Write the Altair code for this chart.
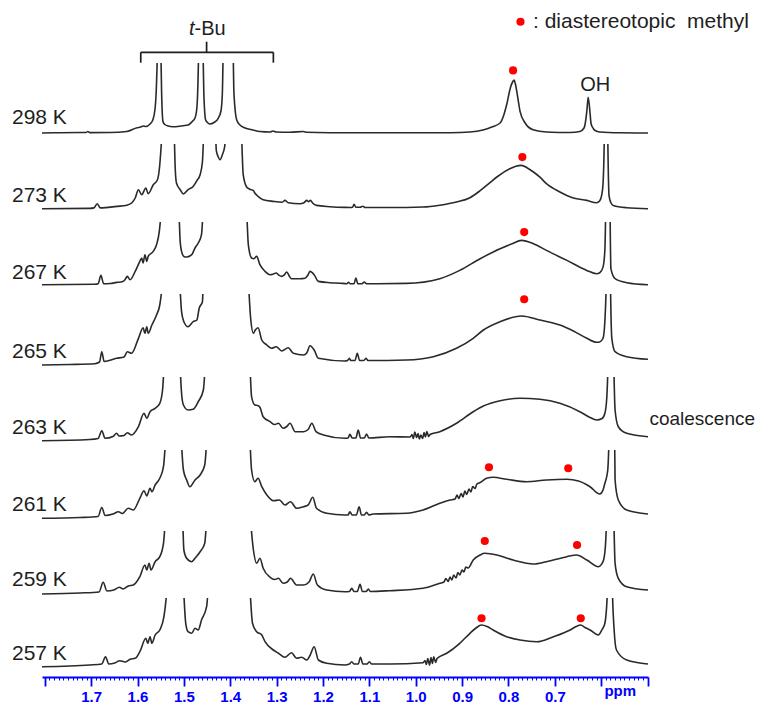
import altair as alt
import pandas as pd

FONT = "Liberation Sans, Arial, Helvetica, sans-serif"
INK = "#1e1e1e"
TRACE = "#2a2a2a"
BLUE = "#0000ff"
RED = "#ff0000"

# chemical-shift window shown on the axis (ppm, drawn high -> low)
PPM_MIN, PPM_MAX = 0.499, 1.806
PLOT_W = 606

temps = ["298 K", "273 K", "267 K", "265 K", "263 K", "261 K", "259 K", "257 K"]

# (ppm, intensity) pairs for each variable-temperature spectrum;
# off-scale t-Bu / OH maxima are truncated by the panel clip
trace_298 = [(1.806, 0), (1.767, 0.3), (1.711, 0.5), (1.707, 1.5), (1.703, 0.4), (1.659, 0.5),
             (1.623, 1.5), (1.601, 5.3), (1.593, 6), (1.588, 7), (1.582, 6.5), (1.573, 9),
             (1.567, 13), (1.562, 25), (1.559, 50), (1.557, 90), (1.554, 300), (1.550, 90),
             (1.548, 40), (1.545, 11.3), (1.541, 8.5), (1.534, 7), (1.524, 6.3), (1.513, 6.5),
             (1.502, 7.3), (1.491, 8), (1.483, 11), (1.476, 15), (1.472, 25), (1.468, 90),
             (1.464, 300), (1.459, 90), (1.457, 40), (1.453, 13), (1.448, 10), (1.444, 9),
             (1.435, 10.5), (1.426, 14.7), (1.420, 22), (1.417, 40), (1.415, 90), (1.405, 300),
             (1.394, 90), (1.392, 40), (1.386, 13), (1.379, 8), (1.368, 5), (1.351, 3),
             (1.336, 1.5), (1.314, 1), (1.308, 2), (1.301, 1), (1.271, 0.8), (1.243, 1.5),
             (1.237, 0.8), (1.185, 0.3), (1.034, 0.2), (0.926, 0.3), (0.883, 1), (0.855, 3),
             (0.836, 6), (0.818, 10), (0.810, 18), (0.804, 28), (0.795, 46.6), (0.791, 51),
             (0.788, 53), (0.785, 49), (0.782, 41.6), (0.778, 30), (0.775, 21.6), (0.764, 10),
             (0.747, 3.3), (0.718, 1), (0.667, 0.5), (0.646, 1.5), (0.637, 5), (0.635, 8),
             (0.631, 21.6), (0.628, 35.6), (0.624, 20), (0.622, 10), (0.619, 6), (0.613, 2.5),
             (0.603, 1), (0.560, 0.2), (0.499, 0)]

trace_273 = [(1.806, 0), (1.703, 0.3), (1.694, 0.8), (1.687, 5), (1.680, 0.8), (1.645, 2.3),
             (1.623, 3.5), (1.612, 6), (1.605, 10.7), (1.598, 19), (1.591, 14), (1.582, 20.7),
             (1.577, 15), (1.566, 24), (1.557, 29), (1.552, 44), (1.547, 80), (1.534, 300),
             (1.521, 80), (1.519, 44), (1.516, 25.7), (1.508, 19), (1.501, 14.7), (1.491, 19),
             (1.480, 22.3), (1.472, 28), (1.465, 34), (1.460, 47), (1.457, 80), (1.446, 300),
             (1.432, 80), (1.430, 58), (1.426, 52), (1.422, 49), (1.417, 54), (1.412, 62),
             (1.410, 80), (1.394, 300), (1.376, 80), (1.372, 34), (1.365, 22), (1.358, 19.5),
             (1.350, 18), (1.347, 15.7), (1.340, 12.3), (1.329, 9), (1.307, 7.3), (1.288, 6.5),
             (1.282, 8.3), (1.275, 6), (1.250, 5), (1.241, 6), (1.235, 8.3), (1.231, 7),
             (1.227, 8.3), (1.222, 5.5), (1.214, 3.3), (1.185, 2), (1.153, 1.3), (1.142, 1.2),
             (1.136, 1.5), (1.133, 4.3), (1.129, 1.5), (1.120, 1.5), (1.114, 2.5), (1.109, 1.2),
             (1.056, 1.2), (0.984, 1.7), (0.948, 3.5), (0.912, 6.7), (0.883, 11), (0.861, 18),
             (0.840, 26), (0.825, 31.7), (0.797, 40), (0.784, 42.5), (0.772, 43.3), (0.760, 41),
             (0.746, 36.7), (0.732, 31.5), (0.718, 25), (0.689, 16.7), (0.660, 10.7), (0.631, 8.3),
             (0.610, 6), (0.603, 8), (0.599, 13.3), (0.596, 25), (0.593, 80), (0.590, 300),
             (0.586, 80), (0.583, 13), (0.579, 6), (0.574, 3.3), (0.545, 1), (0.499, 0)]

trace_267 = [(1.806, 0), (1.692, 0.5), (1.685, 1), (1.679, 9.3), (1.673, 1), (1.659, 1.2),
             (1.645, 2.3), (1.633, 3), (1.627, 5), (1.622, 8.3), (1.616, 5), (1.605, 13.3),
             (1.595, 23.3), (1.591, 26.7), (1.588, 21.7), (1.584, 30), (1.580, 23.3), (1.577, 28.3),
             (1.566, 33.3), (1.559, 40), (1.553, 53.3), (1.548, 80), (1.530, 300), (1.511, 80),
             (1.508, 43.3), (1.505, 33.3), (1.500, 28.3), (1.494, 27.7), (1.483, 30), (1.476, 36.7),
             (1.469, 41.7), (1.462, 50), (1.458, 80), (1.411, 300), (1.365, 80), (1.361, 40),
             (1.354, 26.7), (1.349, 26), (1.343, 28.3), (1.336, 20), (1.325, 13.3), (1.314, 10),
             (1.308, 10.5), (1.301, 11.7), (1.295, 9.5), (1.289, 8.3), (1.284, 9.5), (1.278, 12.7),
             (1.273, 9), (1.268, 6), (1.250, 6), (1.239, 6.5), (1.232, 10), (1.228, 13.3),
             (1.219, 10), (1.210, 3.3), (1.185, 2), (1.163, 1.5), (1.148, 1), (1.145, 2.5),
             (1.142, 1), (1.133, 1), (1.129, 6.6), (1.125, 1), (1.116, 1), (1.111, 2.7),
             (1.106, 1), (1.020, 1.3), (0.948, 6), (0.905, 14.3), (0.861, 26), (0.818, 36),
             (0.792, 41), (0.772, 44.3), (0.746, 41), (0.718, 34.3), (0.674, 24.3), (0.631, 14.3),
             (0.610, 11), (0.603, 12), (0.596, 17.6), (0.592, 35), (0.590, 80), (0.585, 300),
             (0.581, 80), (0.579, 16), (0.570, 6), (0.545, 2), (0.499, 0)]

trace_265 = [(1.806, -4), (1.746, -3.5), (1.692, -2.7), (1.682, -1), (1.677, 9.3), (1.672, -0.5),
             (1.645, 2.7), (1.629, 4), (1.622, 9.3), (1.613, 7.7), (1.598, 22.7), (1.588, 33.3),
             (1.584, 27.7), (1.580, 34.3), (1.577, 27.7), (1.569, 36), (1.559, 46), (1.552, 56),
             (1.546, 80), (1.528, 300), (1.509, 80), (1.505, 49.3), (1.500, 39.3), (1.491, 34.3),
             (1.480, 39.3), (1.472, 41), (1.467, 52.7), (1.460, 59.3), (1.458, 80), (1.409, 300),
             (1.361, 80), (1.356, 42.7), (1.350, 27.7), (1.346, 31), (1.340, 33.3), (1.332, 21),
             (1.321, 16), (1.311, 12.7), (1.301, 14.3), (1.289, 10), (1.275, 13.3), (1.264, 7.7),
             (1.242, 6), (1.235, 8), (1.228, 15.3), (1.219, 11), (1.210, 2.7), (1.153, 0),
             (1.147, 0.5), (1.143, 2.7), (1.140, 0.5), (1.131, 0.5), (1.126, 7.7), (1.121, 0.5),
             (1.112, 0.5), (1.107, 2.7), (1.103, 0.5), (1.020, 1), (0.962, 4.3), (0.912, 12.7),
             (0.876, 22.7), (0.854, 31), (0.818, 39.3), (0.772, 45), (0.732, 41), (0.689, 36),
             (0.660, 30), (0.631, 22.7), (0.610, 18.7), (0.603, 19), (0.596, 22.7), (0.592, 40),
             (0.589, 80), (0.584, 300), (0.580, 80), (0.577, 22.7), (0.570, 9.3), (0.545, 4.3),
             (0.499, 1.7)]

trace_263 = [(1.806, -2.2), (1.703, -1), (1.685, 0), (1.677, 7.8), (1.670, 0.2), (1.653, 2),
             (1.645, 5.2), (1.640, 2.5), (1.629, 3), (1.622, 5.8), (1.613, 3.5), (1.598, 11.8),
             (1.586, 25.2), (1.580, 20.2), (1.573, 26.8), (1.562, 30.2), (1.552, 35.2), (1.546, 48.5),
             (1.542, 80), (1.526, 300), (1.509, 80), (1.505, 45.2), (1.501, 33.5), (1.491, 28.5),
             (1.480, 29.2), (1.469, 36.8), (1.458, 48.5), (1.453, 80), (1.405, 300), (1.358, 80),
             (1.354, 41.8), (1.347, 33.5), (1.341, 33), (1.336, 31.2), (1.329, 21.8), (1.314, 16.8),
             (1.304, 14), (1.296, 15.2), (1.286, 10.2), (1.278, 12), (1.271, 15.2), (1.260, 6.8),
             (1.242, 6.8), (1.232, 9), (1.224, 15.2), (1.215, 6.8), (1.199, 3.5), (1.153, 0.2),
             (1.146, 0.5), (1.142, 4.2), (1.137, 0.5), (1.129, 0.5), (1.124, 8.5), (1.119, 0.5),
             (1.111, 0.5), (1.106, 4.5), (1.101, 0.5), (1.056, 1.8), (1.012, 1.5), (1.008, 4),
             (1.005, 0), (1.002, 6.5), (0.998, 1), (0.995, 5), (0.992, -0.5), (0.989, 3.5),
             (0.985, 0), (0.982, 6), (0.979, 1.5), (0.976, 7), (0.972, 2), (0.969, 4),
             (0.948, 6.8), (0.912, 15.2), (0.876, 26.8), (0.854, 32.5), (0.818, 37.8), (0.775, 40.2),
             (0.732, 39.2), (0.689, 35.2), (0.646, 26.8), (0.624, 21), (0.610, 18.5), (0.598, 20),
             (0.592, 25.2), (0.588, 40), (0.585, 80), (0.579, 300), (0.573, 80), (0.570, 28.5),
             (0.563, 11.8), (0.545, 5.2), (0.499, 1.8)]

trace_261 = [(1.806, -2.3), (1.724, -1.5), (1.685, -0.5), (1.677, 8.7), (1.670, 0.5), (1.653, 2),
             (1.641, 4.3), (1.633, 2.5), (1.620, 7.7), (1.609, 6), (1.595, 17.7), (1.586, 25.3),
             (1.580, 20), (1.573, 27.7), (1.569, 24.3), (1.562, 31), (1.552, 37.7), (1.544, 49.3),
             (1.539, 80), (1.521, 300), (1.506, 80), (1.501, 46), (1.494, 36), (1.487, 29.3),
             (1.476, 36), (1.465, 41), (1.455, 51), (1.450, 80), (1.405, 300), (1.358, 80),
             (1.354, 46), (1.347, 34.3), (1.340, 37.7), (1.332, 29.3), (1.321, 21), (1.307, 15.3),
             (1.294, 16), (1.282, 11), (1.270, 14.3), (1.257, 7.7), (1.242, 9.3), (1.232, 11),
             (1.222, 18.7), (1.214, 7.7), (1.192, 2.7), (1.153, 1), (1.146, 1), (1.142, 4.3),
             (1.137, 1), (1.128, 1), (1.122, 9.3), (1.117, 1), (1.111, 1), (1.106, 3.7),
             (1.101, 1), (1.092, 2), (1.020, 2.7), (0.984, 6), (0.948, 12.7), (0.926, 16),
             (0.915, 17), (0.911, 21), (0.907, 17.5), (0.902, 22.5), (0.898, 19), (0.894, 25),
             (0.890, 21.5), (0.885, 27), (0.881, 24), (0.877, 29.5), (0.872, 27.5), (0.868, 32),
             (0.861, 33.5), (0.847, 37.7), (0.833, 38.7), (0.804, 36.7), (0.761, 34.3), (0.718, 36),
             (0.674, 36.7), (0.649, 35), (0.624, 29.3), (0.603, 22), (0.596, 26), (0.592, 32.7),
             (0.586, 45), (0.583, 80), (0.577, 300), (0.571, 80), (0.570, 36), (0.563, 16),
             (0.545, 6), (0.499, 2)]

trace_259 = [(1.806, -2), (1.724, -1), (1.683, 0), (1.674, 9.7), (1.666, 1), (1.651, 2),
             (1.639, 4.7), (1.631, 3), (1.620, 6), (1.609, 7), (1.595, 15.3), (1.584, 27),
             (1.580, 22), (1.575, 28.7), (1.571, 22), (1.562, 30.3), (1.552, 35.3), (1.544, 48.7),
             (1.539, 80), (1.521, 300), (1.503, 80), (1.500, 42), (1.494, 33.7), (1.483, 30.3),
             (1.476, 33.7), (1.465, 40.3), (1.455, 48.7), (1.450, 80), (1.405, 300), (1.358, 80),
             (1.350, 42), (1.343, 28.7), (1.336, 33.7), (1.329, 23.7), (1.314, 14.7), (1.304, 12.5),
             (1.296, 13.7), (1.286, 8.7), (1.277, 10), (1.270, 13.7), (1.257, 7), (1.242, 7),
             (1.230, 10), (1.221, 18), (1.212, 7), (1.192, 2), (1.153, 0.3), (1.143, 0.5),
             (1.138, 3.7), (1.133, 0.5), (1.126, 0.5), (1.120, 7.7), (1.115, 0.5), (1.107, 0.5),
             (1.102, 3), (1.098, 0.5), (1.056, 1.3), (0.984, 3.7), (0.948, 8.7), (0.939, 10),
             (0.935, 13.5), (0.930, 10.5), (0.926, 15), (0.922, 12), (0.918, 17), (0.913, 14),
             (0.909, 19.5), (0.905, 17), (0.900, 22), (0.896, 20), (0.892, 25), (0.887, 24),
             (0.876, 32), (0.861, 37), (0.851, 38.7), (0.825, 37), (0.790, 32), (0.746, 28),
             (0.718, 30.3), (0.674, 35.3), (0.653, 37), (0.631, 32), (0.606, 25.3), (0.596, 30.3),
             (0.591, 45), (0.588, 80), (0.581, 300), (0.573, 80), (0.570, 28.7), (0.563, 13.7),
             (0.545, 5.3), (0.499, 2)]

trace_257 = [(1.806, -1.2), (1.703, 0.5), (1.677, 1.5), (1.669, 8.8), (1.662, 1.5), (1.649, 2.5),
             (1.638, 4.8), (1.627, 3.5), (1.616, 6.2), (1.605, 7.2), (1.595, 13.8), (1.582, 27.2),
             (1.578, 22.2), (1.573, 28.8), (1.569, 22.2), (1.562, 30.5), (1.552, 35.5), (1.543, 48.8),
             (1.536, 80), (1.519, 300), (1.501, 80), (1.496, 42.2), (1.491, 33.8), (1.483, 32.2),
             (1.476, 37.2), (1.469, 35.5), (1.462, 45.5), (1.451, 58.8), (1.447, 80), (1.405, 300),
             (1.358, 80), (1.352, 42.2), (1.343, 33.8), (1.332, 30.5), (1.325, 23.8), (1.307, 15.5),
             (1.296, 12.2), (1.282, 8.2), (1.268, 12.8), (1.257, 7.2), (1.246, 8.2), (1.235, 5.5),
             (1.228, 10), (1.219, 18.8), (1.210, 5.5), (1.192, 2.2), (1.153, 0.5), (1.143, 1.5),
             (1.138, 3.8), (1.133, 1.5), (1.124, 1.5), (1.119, 8.2), (1.114, 1.5), (1.105, 1.5),
             (1.100, 3.8), (1.095, 1.5), (1.056, 1.5), (0.984, 2.8), (0.980, 5), (0.977, 1),
             (0.974, 7), (0.970, 0.5), (0.967, 8), (0.964, 2), (0.961, 8.8), (0.957, 3),
             (0.954, 7), (0.933, 12.2), (0.905, 22.2), (0.883, 32.2), (0.870, 37.5), (0.858, 40.5),
             (0.846, 39), (0.833, 35.5), (0.804, 28.8), (0.775, 25.5), (0.739, 23.8), (0.703, 28.8),
             (0.667, 35.5), (0.654, 39), (0.644, 40.5), (0.635, 38), (0.624, 35.5), (0.606, 30.5),
             (0.598, 36), (0.592, 42.2), (0.586, 80), (0.581, 300), (0.576, 80), (0.572, 35.5),
             (0.567, 15.5), (0.545, 5.5), (0.499, 1.5)]

traces = [trace_298, trace_273, trace_267, trace_265, trace_263, trace_261, trace_259, trace_257]

# diastereotopic methyl markers (ppm, intensity) per spectrum
methyl_marks = [
    [(0.790, 62.6)],
    [(0.770, 51.6)],
    [(0.766, 52.6)],
    [(0.766, 61.7)],
    [],
    [(0.842, 48.7), (0.671, 47.7)],
    [(0.851, 51.0), (0.652, 47.0)],
    [(0.858, 47.2), (0.644, 47.2)],
]

# panel geometry: one unit of intensity per pixel; top of each panel is the clip level
row_heights = [81, 78, 72, 83, 73, 81, 67, 79]
row_tops = [70, 64.7, 62.7, 67, 61.5, 66, 61, 67.5]
label_levels = [15.5, 13.2, 12.2, 9.5, 11, 11, 12.5, 12]
HEADER_H = 63

tick_values = [round(0.50 + 0.01 * k, 2) for k in range(131)]
major_test = "round(datum.value * 100) % 10 == 0"
label_expr = (
    "(round(datum.value * 100) % 10 == 0 && datum.value > 0.65 && datum.value < 1.75)"
    " ? format(datum.value, '.1f') : (round(datum.value * 100) == 56 ? 'ppm' : '')"
)
ppm_axis = alt.Axis(
    values=tick_values, grid=False, title=None,
    domainColor=BLUE, domainWidth=2, tickColor=BLUE,
    tickSize={"condition": {"test": major_test, "value": 9}, "value": 3},
    tickWidth={"condition": {"test": major_test, "value": 1.8}, "value": 1},
    labelExpr=label_expr, labelColor=BLUE, labelFont=FONT, labelFontSize=15,
    labelFontWeight="bold", labelPadding=3, labelOverlap=False, labelFlush=False,
    labelBound=False,
)

x_scale = alt.Scale(domain=[PPM_MIN, PPM_MAX], reverse=True, nice=False, zero=False)


def spectrum_panel(i, axis=None):
    lo = row_tops[i] - row_heights[i]
    y_scale = alt.Scale(domain=[lo, row_tops[i]], nice=False, zero=False)
    x = alt.X("ppm:Q", scale=x_scale, axis=axis, title=None)
    y = alt.Y("h:Q", scale=y_scale, axis=None, title=None)

    df = pd.DataFrame(traces[i], columns=["ppm", "h"])
    df["i"] = range(len(df))
    layers = [
        alt.Chart(df).mark_line(clip=True, color=TRACE, strokeWidth=1.6, strokeJoin="round",
                                interpolate="monotone")
        .encode(x=x, y=y, order="i:Q")
    ]
    if methyl_marks[i]:
        mdf = pd.DataFrame(methyl_marks[i], columns=["ppm", "h"])
        layers.append(
            alt.Chart(mdf).mark_circle(size=66, color=RED, opacity=1).encode(x=x, y=y)
        )
    ldf = pd.DataFrame({"t": [temps[i]], "h": [label_levels[i]]})
    layers.append(
        alt.Chart(ldf).mark_text(align="left", baseline="middle", font=FONT, fontSize=21, color=INK)
        .encode(x=alt.value(-30), y=y, text="t:N")
    )
    if i == 0:
        odf = pd.DataFrame({"ppm": [0.613], "h": [48], "t": ["OH"]})
        layers.append(
            alt.Chart(odf).mark_text(align="center", baseline="middle", font=FONT, fontSize=20, color=INK)
            .encode(x=x, y=y, text="t:N")
        )
    if i == 4:
        cdf = pd.DataFrame({"ppm": [0.496], "h": [20], "t": ["coalescence"]})
        layers.append(
            alt.Chart(cdf).mark_text(align="left", baseline="middle", font=FONT, fontSize=19, color=INK)
            .encode(x=x, y=y, text="t:N")
        )
    return alt.layer(*layers).properties(width=PLOT_W, height=row_heights[i])


# header: t-Bu bracket and marker legend
hx = alt.X("x:Q", scale=x_scale, axis=None, title=None)
hy = alt.Y("y:Q", scale=alt.Scale(domain=[0, HEADER_H], nice=False, zero=False), axis=None, title=None)
tbu_left, tbu_right, tbu_mid = 1.593, 1.307, 1.451
bracket = pd.DataFrame({
    "x": [tbu_left, tbu_left, tbu_right, tbu_mid],
    "x2": [tbu_right, tbu_left, tbu_right, tbu_mid],
    "y": [10.7, 0.3, 0.3, 10.7],
    "y2": [10.7, 10.7, 10.7, 21.3],
})
bracket_layer = alt.Chart(bracket).mark_rule(color=INK, strokeWidth=1.7).encode(
    x=hx, x2="x2:Q", y=hy, y2="y2:Q"
)
t_layer = alt.Chart(pd.DataFrame({"x": [1.477], "y": [34.5], "t": ["t"]})).mark_text(
    align="right", baseline="middle", font=FONT, fontSize=20, fontStyle="italic", color=INK
).encode(x=hx, y=hy, text="t:N")
bu_layer = alt.Chart(pd.DataFrame({"x": [1.477], "y": [34.5], "t": ["-Bu"]})).mark_text(
    align="left", baseline="middle", font=FONT, fontSize=20, color=INK
).encode(x=hx, y=hy, text="t:N")
legend_dot = alt.Chart(pd.DataFrame({"x": [0.774], "y": [41.3]})).mark_circle(
    size=66, color=RED, opacity=1
).encode(x=hx, y=hy)
legend_text = alt.Chart(pd.DataFrame({"x": [0.747], "y": [41.0], "t": [": diastereotopic\u00a0 methyl"]})).mark_text(
    align="left", baseline="middle", font=FONT, fontSize=21, color=INK
).encode(x=hx, y=hy, text="t:N")

header = alt.layer(bracket_layer, t_layer, bu_layer, legend_dot, legend_text).properties(
    width=PLOT_W, height=HEADER_H
)

panels = [spectrum_panel(i, ppm_axis if i == len(temps) - 1 else None) for i in range(len(temps))]

chart = (
    alt.vconcat(header, *panels, spacing=0, bounds="flush")
    .properties(padding={"left": 12, "top": 0, "right": 0, "bottom": 0})
    .configure_view(stroke=None)
    .configure_axis(labelFontSize=15, labelFontWeight="bold", labelColor=BLUE, labelFont=FONT)
)

chart.save("out.html", embed_options={"renderer": "svg", "actions": False})
